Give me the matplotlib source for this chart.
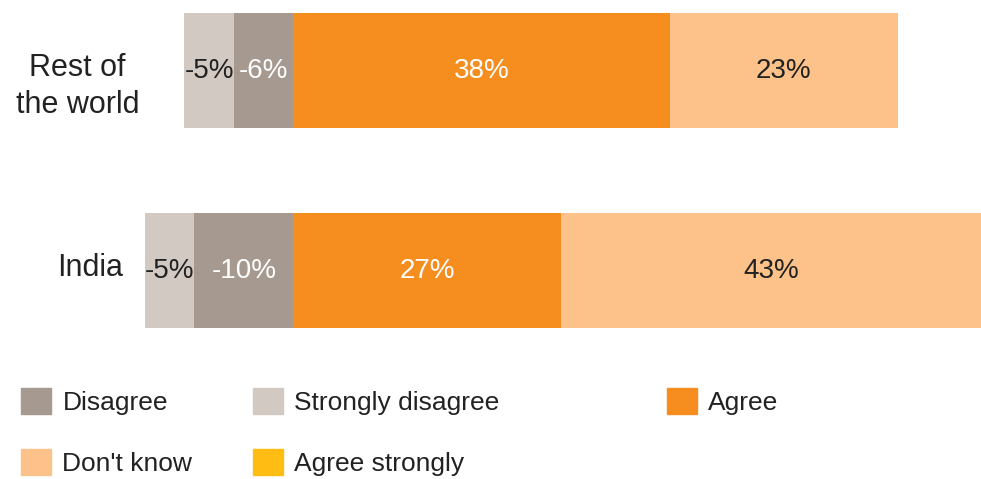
import matplotlib
matplotlib.use("Agg")
import matplotlib.pyplot as plt
from matplotlib.patches import Patch
from matplotlib.transforms import offset_copy

plt.rcParams["font.family"] = ["Liberation Sans", "DejaVu Sans"]

regions = ["India", "Rest of\nthe world"]
strongly_disagree = [-5, -5]
disagree = [-10, -6]
agree = [27, 38]
agree_strongly = [0, 0]
dont_know = [43, 23]

c_sd = "#d2c9c3"
c_d = "#a69a90"
c_a = "#f68e1f"
c_as = "#ffbd13"
c_dk = "#fcc289"

fig = plt.figure(figsize=(9.81, 4.79), dpi=100)
ax = fig.add_axes([0, 99 / 479, 1, 380 / 479])

y = list(range(len(regions)))
h = 0.575

# negative side
b_d = ax.barh(y, disagree, height=h, color=c_d)
left_sd = list(disagree)
b_sd = ax.barh(y, strongly_disagree, left=left_sd, height=h, color=c_sd)
# positive side
b_a = ax.barh(y, agree, height=h, color=c_a)
left_as = list(agree)
b_as = ax.barh(y, agree_strongly, left=left_as, height=h, color=c_as)
left_dk = [a + s for a, s in zip(agree, agree_strongly)]
b_dk = ax.barh(y, dont_know, left=left_dk, height=h, color=c_dk)

fmt = lambda v: f"{v:g}%" if v != 0 else ""
ax.bar_label(b_d, labels=[fmt(v) for v in disagree], label_type="center",
             color="white", fontsize=20)
ax.bar_label(b_sd, labels=[fmt(v) for v in strongly_disagree], label_type="center",
             color="#222222", fontsize=20)
ax.bar_label(b_a, labels=[fmt(v) for v in agree], label_type="center",
             color="white", fontsize=20)
ax.bar_label(b_dk, labels=[fmt(v) for v in dont_know], label_type="center",
             color="#222222", fontsize=20)

ax.set_xlim(-29.6, 69.4)
ax.set_ylim(-0.5475, 1.3525)
ax.axis("off")

# region names on the left
offsets = [2, -16]   # pixels
xs = [0.092, 0.079]
for yi, name, dy, xx in zip(y, regions, offsets, xs):
    tr = offset_copy(ax.get_yaxis_transform(), fig=fig, y=dy * 0.72, units="points")
    ax.text(xx, yi, name, transform=tr, ha="center", va="center",
            fontsize=22, color="#222222", linespacing=1.3)

# legend, one column at a time
kw = dict(loc="upper left", frameon=False, fontsize=19, borderpad=0,
          borderaxespad=0, handlelength=1.12, handleheight=1.12,
          handletextpad=0.45, labelspacing=1.3)
col1 = [Patch(color=c_d, label="Disagree"), Patch(color=c_dk, label="Don't know")]
col2 = [Patch(color=c_sd, label="Strongly disagree"), Patch(color=c_as, label="Agree strongly")]
col3 = [Patch(color=c_a, label="Agree")]
for handles, xpx in zip([col1, col2, col3], [21, 253, 667]):
    leg = fig.legend(handles=handles, bbox_to_anchor=(xpx / 981, 1 - 388 / 479), **kw)
    for t in leg.get_texts():
        t.set_color("#222222")

fig.savefig("out.png", dpi=100)
